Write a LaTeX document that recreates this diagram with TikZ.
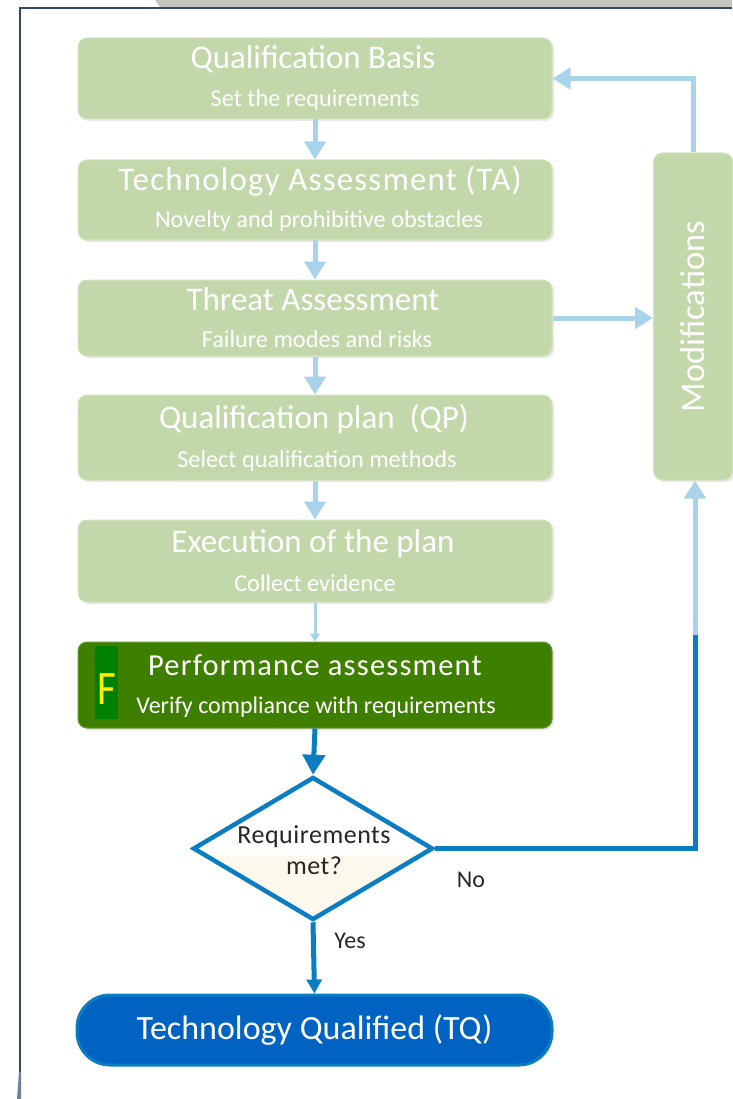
\documentclass[tikz,border=0pt]{standalone}
\usepackage{fontspec}
\setmainfont{Carlito}
\usetikzlibrary{arrows.meta,shapes.geometric,shadows}
\definecolor{boxgreen}{HTML}{C2D8AB}
\definecolor{boxedge}{HTML}{D2E5BF}
\definecolor{lblue}{HTML}{A9D3EA}
\definecolor{dgreen}{HTML}{3F7F00}
\definecolor{fgreen}{HTML}{008000}
\definecolor{dblue}{HTML}{0B7DC2}
\definecolor{tqfill}{HTML}{0062C1}
\definecolor{cream}{HTML}{FDF8EC}
\definecolor{frame}{HTML}{2E4A6E}
\definecolor{topbar}{HTML}{C4C4BC}
\tikzset{
  stage/.style={draw=boxedge, line width=1pt, fill=boxgreen, rounded corners=9pt,
    minimum width=474pt, minimum height=#1, inner sep=0pt,
    drop shadow={opacity=0.18, shadow xshift=2pt, shadow yshift=-2pt}},
  ttl/.style={font=\fontsize{33}{36}\selectfont, text=white, inner sep=0pt},
  sub/.style={font=\fontsize{24.3}{27}\selectfont, text=white, inner sep=0pt},
  lflow/.style={draw=lblue, line width=5pt, -{Triangle[width=21pt,length=18pt]}},
  dflow/.style={draw=dblue, line width=5pt},
  plain/.style={font=\fontsize{24}{26}\selectfont, text=black!85},
}
\begin{document}
\begin{tikzpicture}[x=1pt,y=-1pt]
\useasboundingbox (0,0) rectangle (732,1099);
\fill[white] (0,0) rectangle (732,1099);
% frame
\fill[topbar] (155,0) -- (732,0) -- (732,7) -- (160,7) -- cycle;
\draw[frame, line width=1.5pt] (20,1099) -- (20,8) -- (732,8);
\fill[frame!70] (17,1099) -- (19,1072) -- (21,1072) -- (21,1099) -- cycle;

% stages
\node[stage=81pt] (qb) at (315,78.5) {};
\node[ttl] (qbt) at (313,59) {Qualification Basis};
\node[sub] (qbs) at (315,100) {Set the requirements};

\node[stage=80pt] (ta) at (315,200) {};
\node[ttl, font=\fontsize{33}{36}\selectfont\addfontfeatures{LetterSpace=3.5}] (tat) at (320,181) {Technology Assessment (TA)};
\node[sub] (tas) at (319,221) {Novelty and prohibitive obstacles};

\node[stage=76pt] (th) at (315,318) {};
\node[ttl] (tht) at (313,299) {Threat Assessment};
\node[sub] (ths) at (317,339) {Failure modes and risks};

\node[stage=85pt] (qp) at (315,437.5) {};
\node[ttl] (qpt) at (314,419) {Qualification plan\ \ (QP)};
\node[sub] (qps) at (317,461) {Select qualification methods};

\node[stage=82pt] (ex) at (315,561) {};
\node[ttl] (ext) at (313,544) {Execution of the plan};
\node[sub] (exs) at (315,583) {Collect evidence};

\node[stage=86pt, fill=dgreen, draw=dgreen!80!white] (pa) at (315,685) {};
\node[fill=fgreen, minimum width=23pt, minimum height=73pt, inner sep=0pt] (f) at (106.5,682) {};
\node[text=yellow, font=\fontsize{48}{48}\selectfont, inner sep=0pt, xscale=0.85] (ft) at (106.5,689) {F};
\node[ttl, font=\fontsize{30.5}{33}\selectfont\addfontfeatures{LetterSpace=4}] (pat) at (315,665) {Performance assessment};
\node[sub, font=\fontsize{24}{27}\selectfont] (pas) at (316,707) {Verify compliance with requirements};

% modifications
\node[stage=327pt, minimum width=79pt, minimum height=327pt] (mod) at (693,316.5) {};
\node[ttl, rotate=90, font=\fontsize{34.5}{36}\selectfont] (modt) at (693,316.5) {Modifications};

% decision
\node[draw=dblue, line width=4.5pt, shape=diamond, aspect=1.68, minimum width=240pt,
  minimum height=143pt, inner sep=0pt, fill=white,
  path picture={\fill[cream] ([yshift=-7pt]path picture bounding box.west) -- ([yshift=-7pt]path picture bounding box.east) -- (path picture bounding box.south) -- cycle;}] (dec) at (313,848.5) {};
\node[align=center, text=black!85, font=\fontsize{26}{31}\selectfont\addfontfeatures{LetterSpace=2}, inner sep=0pt] (dect) at (314,850) {Requirements\\met?};

% final
\node[draw=dblue, line width=3pt, fill=tqfill, rounded corners=33pt, minimum width=475pt,
  minimum height=70pt, inner sep=0pt, text=white, font=\fontsize{34}{36}\selectfont] (tq) at (314.5,1030) {Technology Qualified (TQ)};

% connectors
\draw[lflow] (qb.south) -- (ta.north);
\draw[lflow] (ta.south) -- (th.north);
\draw[lflow] (th.south) -- (qp.north);
\draw[lflow] (qp.south) -- (ex.north);
\draw[draw=lblue, line width=3pt, -{Triangle[width=10pt,length=8pt]}] (ex.south) -- (pa.north);
\draw[dflow, -{Triangle[width=22pt,length=20pt]}] (pa.south) -- (dec.north);
\draw[dflow, -{Triangle[width=15pt,length=14pt]}] (dec.south) -- (tq.north);
\draw[lflow] (th.east) -- (th.east -| mod.west);
\draw[lflow] (mod.north) |- (qb.east);
\coordinate (turn) at (695,635);
\draw[dflow] (dec.east) -| (turn);
\draw[lflow] (turn) -- (mod.south -| turn);

\node[plain] (no) at (471,880) {No};
\node[plain] (yes) at (350,941) {Yes};
\end{tikzpicture}
\end{document}
